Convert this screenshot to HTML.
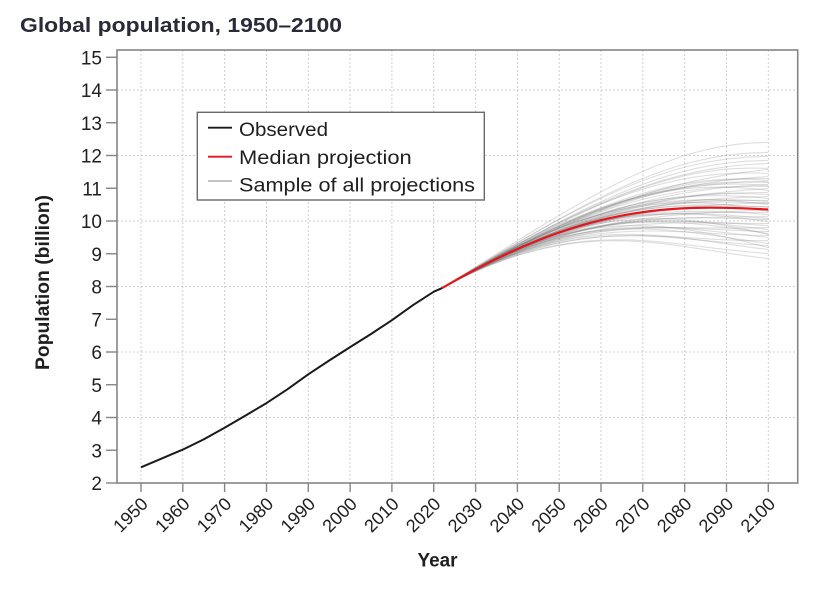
<!DOCTYPE html>
<html><head><meta charset="utf-8"><style>
html,body{margin:0;padding:0;background:#fff;}
svg{display:block;font-family:"Liberation Sans",sans-serif;}
</style></head><body>
<svg width="822" height="592" viewBox="0 0 822 592" xmlns="http://www.w3.org/2000/svg">
<rect width="822" height="592" fill="#fff"/>
<text x="20" y="32" font-size="20" font-weight="bold" fill="#2a2a38" textLength="322" lengthAdjust="spacingAndGlyphs">Global population, 1950–2100</text>

<g stroke="#cfcfcf" stroke-width="1" stroke-dasharray="2,2" fill="none">
<line x1="117" y1="417.5" x2="797.7" y2="417.5"/>
<line x1="117" y1="352" x2="797.7" y2="352"/>
<line x1="117" y1="286.5" x2="797.7" y2="286.5"/>
<line x1="117" y1="221" x2="797.7" y2="221"/>
<line x1="117" y1="155.5" x2="797.7" y2="155.5"/>
<line x1="117" y1="90" x2="797.7" y2="90"/>
<line x1="141" y1="50" x2="141" y2="483"/>
<line x1="182.8" y1="50" x2="182.8" y2="483"/>
<line x1="224.6" y1="50" x2="224.6" y2="483"/>
<line x1="266.5" y1="50" x2="266.5" y2="483"/>
<line x1="308.3" y1="50" x2="308.3" y2="483"/>
<line x1="350.1" y1="50" x2="350.1" y2="483"/>
<line x1="391.9" y1="50" x2="391.9" y2="483"/>
<line x1="433.7" y1="50" x2="433.7" y2="483"/>
<line x1="475.6" y1="50" x2="475.6" y2="483"/>
<line x1="517.4" y1="50" x2="517.4" y2="483"/>
<line x1="559.2" y1="50" x2="559.2" y2="483"/>
<line x1="601" y1="50" x2="601" y2="483"/>
<line x1="642.8" y1="50" x2="642.8" y2="483"/>
<line x1="684.7" y1="50" x2="684.7" y2="483"/>
<line x1="726.5" y1="50" x2="726.5" y2="483"/>
<line x1="768.3" y1="50" x2="768.3" y2="483"/>
</g>

<g fill="none" stroke="#7a7a7a" stroke-opacity="0.25" stroke-width="1.1">
<path d="M442.1,288.1 C582,199.9 668,142 768.3,142.5"/>
<path d="M442.1,288.1 C582,202.9 668,152 768.3,152.5"/>
<path d="M442.1,288.1 C582,201.9 668,156 768.3,156.5"/>
<path d="M442.1,288.1 C582,205.9 668,160 768.3,160.5"/>
<path d="M442.1,288.1 C582,203.9 668,166 768.3,163.5"/>
<path d="M442.1,288.1 C582,207.9 668,163 768.3,168.5"/>
<path d="M442.1,288.1 C582,202.9 668,168 768.3,173.5"/>
<path d="M442.1,288.1 C582,205.9 668,177 768.3,178.5"/>
<path d="M442.1,288.1 C582,207.9 668,171 768.3,180.5"/>
<path d="M442.1,288.1 C582,203.9 668,182 768.3,181.5"/>
<path d="M442.1,288.1 C582,206.9 668,177 768.3,182.5"/>
<path d="M442.1,288.1 C582,208.9 668,189 768.3,184.5"/>
<path d="M442.1,288.1 C582,204.9 668,177 768.3,185.5"/>
<path d="M442.1,288.1 C582,205.9 668,184 768.3,186.5"/>
<path d="M442.1,288.1 C582,209.9 668,195 768.3,188.5"/>
<path d="M442.1,288.1 C582,201.9 668,177 768.3,190.5"/>
<path d="M442.1,288.1 C582,207.9 668,192 768.3,192.5"/>
<path d="M442.1,288.1 C582,205.9 668,189 768.3,194.5"/>
<path d="M442.1,288.1 C582,208.9 668,199 768.3,196.5"/>
<path d="M442.1,288.1 C582,203.9 668,188 768.3,198.5"/>
<path d="M442.1,288.1 C582,206.9 668,199 768.3,200.5"/>
<path d="M442.1,288.1 C582,205.9 668,194 768.3,201.5"/>
<path d="M442.1,288.1 C582,209.9 668,207 768.3,202.5"/>
<path d="M442.1,288.1 C582,204.9 668,198 768.3,203.5"/>
<path d="M442.1,288.1 C582,202.9 668,191 768.3,204.5"/>
<path d="M442.1,288.1 C582,207.9 668,207 768.3,206.5"/>
<path d="M442.1,288.1 C582,205.9 668,199 768.3,207.5"/>
<path d="M442.1,288.1 C582,210.9 668,216 768.3,209.5"/>
<path d="M442.1,288.1 C582,203.9 668,199 768.3,210.5"/>
<path d="M442.1,288.1 C582,206.9 668,212 768.3,212.5"/>
<path d="M442.1,288.1 C582,205.9 668,207 768.3,214.5"/>
<path d="M442.1,288.1 C582,208.9 668,219 768.3,216.5"/>
<path d="M442.1,288.1 C582,204.9 668,209 768.3,218.5"/>
<path d="M442.1,288.1 C582,207.9 668,217 768.3,219.5"/>
<path d="M442.1,288.1 C582,202.9 668,208 768.3,221.5"/>
<path d="M442.1,288.1 C582,209.9 668,224 768.3,223.5"/>
<path d="M442.1,288.1 C582,205.9 668,220 768.3,225.5"/>
<path d="M442.1,288.1 C582,208.9 668,232 768.3,227.5"/>
<path d="M442.1,288.1 C582,203.9 668,218 768.3,229.5"/>
<path d="M442.1,288.1 C582,207.9 668,230 768.3,231.5"/>
<path d="M442.1,288.1 C582,204.9 668,218 768.3,233.5"/>
<path d="M442.1,288.1 C582,208.9 668,235 768.3,235.5"/>
<path d="M442.1,288.1 C582,205.9 668,227 768.3,237.5"/>
<path d="M442.1,288.1 C582,209.9 668,243 768.3,240.5"/>
<path d="M442.1,288.1 C582,203.9 668,230 768.3,243.5"/>
<path d="M442.1,288.1 C582,208.9 668,242 768.3,245.5"/>
<path d="M442.1,288.1 C582,207.9 668,238 768.3,249.5"/>
<path d="M442.1,288.1 C582,210.9 668,248 768.3,253.5"/>
<path d="M442.1,288.1 C582,211.9 668,248 768.3,258.5"/>
<path d="M442.1,288.1 C582,208.9 668,179 768.3,169.5"/>
<path d="M442.1,288.1 C582,206.9 668,183 768.3,176.5"/>
<path d="M442.1,288.1 C582,201.9 668,191 768.3,211.5"/>
<path d="M442.1,288.1 C582,202.9 668,211 768.3,234.5"/>
<path d="M442.1,288.1 C582,201.9 668,222 768.3,247.5"/>
</g>

<polyline fill="none" stroke="#1a1a1a" stroke-width="2" stroke-linejoin="round" points="141,467.3 161.9,458.4 182.8,449.6 203.7,439.4 224.6,427.7 245.6,415.5 266.5,403.1 287.4,389.3 308.3,374.3 329.2,360.5 350.1,347.1 371,334 391.9,320.2 412.9,305.2 433.8,291.7 442.1,288.1"/>
<path d="M442.1,288.1 C582,205.9 668,204 768.3,209.5" fill="none" stroke="#e3161e" stroke-width="2.2"/>

<rect x="117" y="50" width="680.7" height="433" fill="none" stroke="#858585" stroke-width="1.6"/>

<g stroke="#858585" stroke-width="1.4">
<line x1="106" y1="483" x2="117" y2="483"/>
<line x1="106" y1="450.25" x2="117" y2="450.25"/>
<line x1="106" y1="417.5" x2="117" y2="417.5"/>
<line x1="106" y1="384.75" x2="117" y2="384.75"/>
<line x1="106" y1="352" x2="117" y2="352"/>
<line x1="106" y1="319.25" x2="117" y2="319.25"/>
<line x1="106" y1="286.5" x2="117" y2="286.5"/>
<line x1="106" y1="253.75" x2="117" y2="253.75"/>
<line x1="106" y1="221" x2="117" y2="221"/>
<line x1="106" y1="188.25" x2="117" y2="188.25"/>
<line x1="106" y1="155.5" x2="117" y2="155.5"/>
<line x1="106" y1="122.75" x2="117" y2="122.75"/>
<line x1="106" y1="90" x2="117" y2="90"/>
<line x1="106" y1="57.25" x2="117" y2="57.25"/>
</g>
<g font-size="19" fill="#1f1f1f" text-anchor="end">
<text x="102" y="490">2</text>
<text x="102" y="457.3">3</text>
<text x="102" y="424.5">4</text>
<text x="102" y="391.8">5</text>
<text x="102" y="359">6</text>
<text x="102" y="326.3">7</text>
<text x="102" y="293.5">8</text>
<text x="102" y="260.8">9</text>
<text x="102" y="228">10</text>
<text x="102" y="195.3">11</text>
<text x="102" y="162.5">12</text>
<text x="102" y="129.8">13</text>
<text x="102" y="97">14</text>
<text x="102" y="64.3">15</text>
</g>

<g stroke="#858585" stroke-width="1.4">
<line x1="141" y1="483" x2="141" y2="492"/>
<line x1="182.8" y1="483" x2="182.8" y2="492"/>
<line x1="224.6" y1="483" x2="224.6" y2="492"/>
<line x1="266.5" y1="483" x2="266.5" y2="492"/>
<line x1="308.3" y1="483" x2="308.3" y2="492"/>
<line x1="350.1" y1="483" x2="350.1" y2="492"/>
<line x1="391.9" y1="483" x2="391.9" y2="492"/>
<line x1="433.7" y1="483" x2="433.7" y2="492"/>
<line x1="475.6" y1="483" x2="475.6" y2="492"/>
<line x1="517.4" y1="483" x2="517.4" y2="492"/>
<line x1="559.2" y1="483" x2="559.2" y2="492"/>
<line x1="601" y1="483" x2="601" y2="492"/>
<line x1="642.8" y1="483" x2="642.8" y2="492"/>
<line x1="684.7" y1="483" x2="684.7" y2="492"/>
<line x1="726.5" y1="483" x2="726.5" y2="492"/>
<line x1="768.3" y1="483" x2="768.3" y2="492"/>
</g>
<g font-size="18" fill="#1f1f1f" text-anchor="end">
<text transform="translate(149,505) rotate(-45)">1950</text>
<text transform="translate(190.8,505) rotate(-45)">1960</text>
<text transform="translate(232.6,505) rotate(-45)">1970</text>
<text transform="translate(274.5,505) rotate(-45)">1980</text>
<text transform="translate(316.3,505) rotate(-45)">1990</text>
<text transform="translate(358.1,505) rotate(-45)">2000</text>
<text transform="translate(399.9,505) rotate(-45)">2010</text>
<text transform="translate(441.7,505) rotate(-45)">2020</text>
<text transform="translate(483.6,505) rotate(-45)">2030</text>
<text transform="translate(525.4,505) rotate(-45)">2040</text>
<text transform="translate(567.2,505) rotate(-45)">2050</text>
<text transform="translate(609,505) rotate(-45)">2060</text>
<text transform="translate(650.8,505) rotate(-45)">2070</text>
<text transform="translate(692.7,505) rotate(-45)">2080</text>
<text transform="translate(734.5,505) rotate(-45)">2090</text>
<text transform="translate(776.3,505) rotate(-45)">2100</text>
</g>

<text x="437.5" y="566.5" font-size="19" font-weight="bold" fill="#1f1f1f" text-anchor="middle" textLength="40" lengthAdjust="spacingAndGlyphs">Year</text>
<text transform="translate(49,282.5) rotate(-90)" font-size="19" font-weight="bold" fill="#1f1f1f" text-anchor="middle" textLength="175" lengthAdjust="spacingAndGlyphs">Population (billion)</text>

<rect x="197.3" y="112.3" width="287" height="87.7" fill="#fff" stroke="#6a6a6a" stroke-width="1.4"/>
<line x1="208" y1="127.7" x2="232" y2="127.7" stroke="#1a1a1a" stroke-width="1.8"/>
<line x1="208" y1="156.7" x2="232" y2="156.7" stroke="#e3161e" stroke-width="1.8"/>
<line x1="208" y1="181" x2="232" y2="181" stroke="#bdbdbd" stroke-width="1.8"/>
<g font-size="19" fill="#1f1f1f">
<text x="239" y="136" textLength="89" lengthAdjust="spacingAndGlyphs">Observed</text>
<text x="239" y="164" textLength="172.7" lengthAdjust="spacingAndGlyphs">Median projection</text>
<text x="239" y="191.7" textLength="236" lengthAdjust="spacingAndGlyphs">Sample of all projections</text>
</g>
</svg>
</body></html>
